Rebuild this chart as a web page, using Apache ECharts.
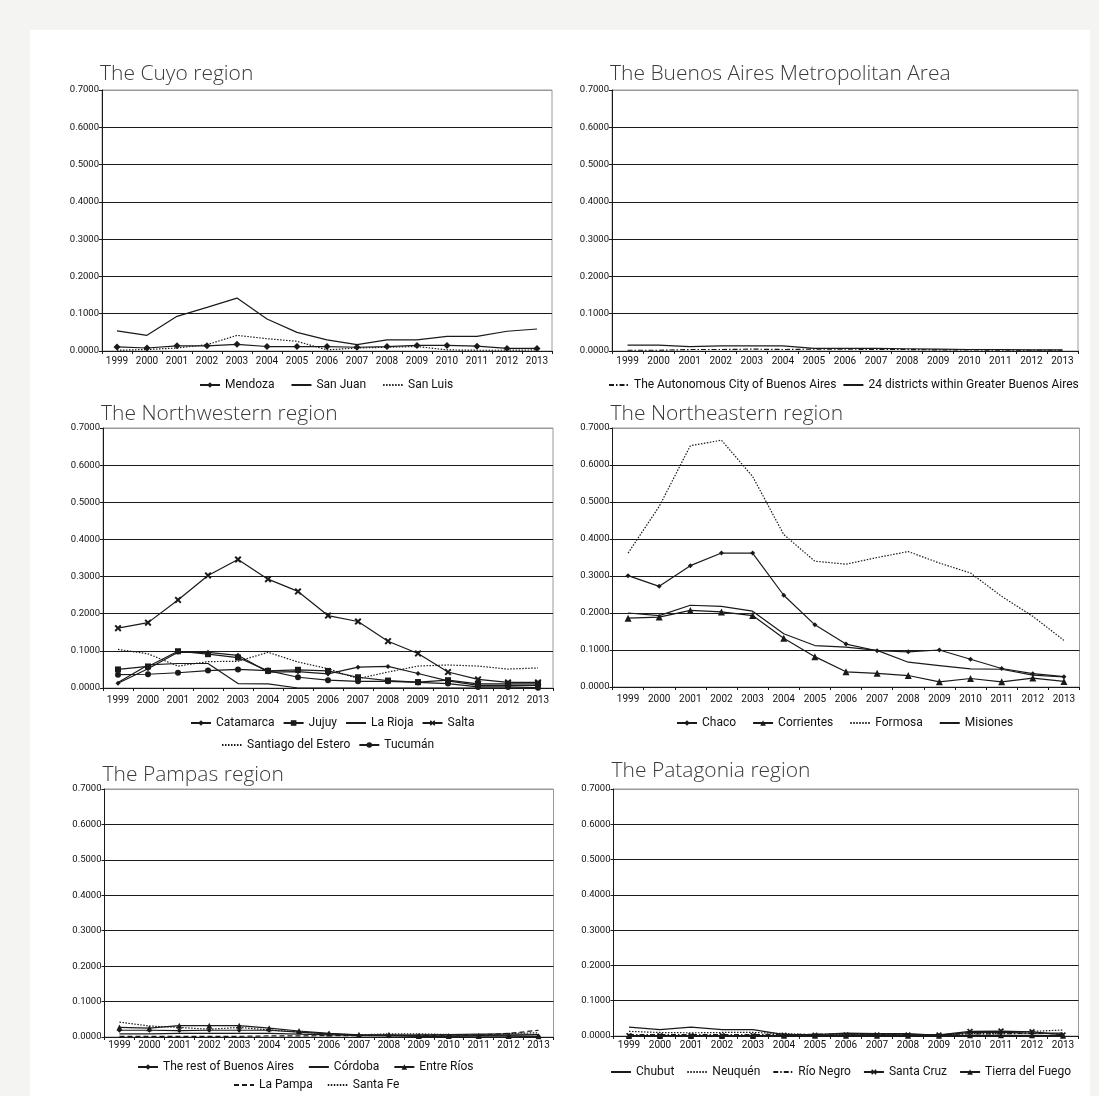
<!DOCTYPE html>
<html>
<head>
<meta charset="utf-8">
<script src="https://cdn.jsdelivr.net/npm/echarts@6/dist/echarts.min.js"></script>
<style>
  html, body { margin: 0; padding: 0; width: 1099px; height: 1096px; overflow: hidden; background: #f4f4f3; }
  #sheet { position: absolute; left: 30px; top: 30px; width: 1060px; height: 1066px; background: #ffffff; }
  .panel { position: absolute; }
</style>
</head>
<body>
<div id="sheet"></div>
<script>
// Years on the horizontal axis
const years = ['1999','2000','2001','2002','2003','2004','2005','2006','2007','2008','2009','2010','2011','2012','2013'];

// The Cuyo region
const mendoza  = [0.011,0.008,0.014,0.014,0.018,0.012,0.012,0.012,0.010,0.012,0.015,0.015,0.013,0.007,0.007];
const sanJuan  = [0.054,0.042,0.093,0.117,0.142,0.086,0.050,0.030,0.017,0.030,0.030,0.039,0.039,0.053,0.059];
const sanLuis  = [0.002,0.004,0.008,0.017,0.042,0.033,0.026,0.003,0.008,0.010,0.012,0.003,0.002,0.002,0.003];

// The Buenos Aires Metropolitan Area
const caba     = [0.002,0.002,0.004,0.004,0.005,0.004,0.005,0.005,0.004,0.004,0.003,0.003,0.002,0.002,0.002];
const gba24    = [0.016,0.016,0.012,0.014,0.014,0.014,0.007,0.007,0.007,0.006,0.005,0.004,0.004,0.003,0.003];

// The Northwestern region
const catamarca = [0.013,0.052,0.096,0.096,0.088,0.043,0.044,0.038,0.056,0.058,0.039,0.019,0.007,0.007,0.007];
const jujuy     = [0.050,0.058,0.099,0.091,0.082,0.046,0.049,0.046,0.029,0.020,0.016,0.021,0.011,0.011,0.011];
const laRioja   = [0.015,0.062,0.066,0.066,0.012,0.011,0.000,0.000,0.000,0.000,0.000,0.000,0.000,0.000,0.000];
const salta     = [0.161,0.176,0.237,0.303,0.346,0.293,0.260,0.195,0.179,0.126,0.093,0.043,0.023,0.015,0.015];
const santiago  = [0.104,0.092,0.059,0.071,0.072,0.096,0.070,0.052,0.025,0.043,0.059,0.062,0.059,0.051,0.054];
const tucuman   = [0.036,0.037,0.041,0.047,0.050,0.047,0.029,0.021,0.018,0.018,0.015,0.012,0.003,0.003,0.001];

// The Northeastern region
const chaco      = [0.301,0.272,0.328,0.362,0.362,0.248,0.168,0.116,0.098,0.095,0.100,0.075,0.050,0.036,0.028];
const corrientes = [0.186,0.189,0.207,0.203,0.193,0.132,0.082,0.041,0.037,0.031,0.014,0.023,0.014,0.024,0.015];
const formosa    = [0.362,0.488,0.652,0.667,0.569,0.412,0.340,0.332,0.350,0.366,0.335,0.308,0.245,0.191,0.126];
const misiones   = [0.200,0.193,0.221,0.218,0.205,0.144,0.112,0.108,0.099,0.067,0.058,0.049,0.048,0.032,0.027];

// The Pampas region
const restBA    = [0.019,0.019,0.018,0.019,0.019,0.019,0.014,0.009,0.004,0.003,0.002,0.002,0.003,0.003,0.002];
const cordoba   = [0.009,0.009,0.010,0.010,0.010,0.010,0.008,0.006,0.005,0.005,0.006,0.007,0.008,0.008,0.007];
const entreRios = [0.027,0.025,0.032,0.032,0.032,0.025,0.017,0.010,0.006,0.006,0.003,0.003,0.003,0.003,0.002];
const laPampa   = [0.002,0.002,0.002,0.002,0.002,0.003,0.003,0.004,0.004,0.005,0.004,0.006,0.006,0.010,0.019];
const santaFe   = [0.042,0.031,0.027,0.022,0.027,0.020,0.014,0.009,0.006,0.009,0.009,0.007,0.005,0.010,0.012];

// The Patagonia region
const chubut      = [0.025,0.018,0.025,0.018,0.018,0.004,0.004,0.008,0.007,0.007,0.002,0.010,0.010,0.008,0.008];
const neuquen     = [0.013,0.010,0.009,0.010,0.010,0.007,0.003,0.004,0.004,0.003,0.003,0.007,0.007,0.013,0.017];
const rioNegro    = [0.004,0.004,0.004,0.004,0.004,0.005,0.005,0.006,0.004,0.004,0.004,0.006,0.006,0.008,0.006];
const santaCruz   = [0.001,0.001,0.001,0.001,0.001,0.002,0.002,0.003,0.003,0.003,0.003,0.013,0.014,0.012,0.003];
const tierraFuego = [0.000,0.000,0.000,0.000,0.000,0.001,0.001,0.001,0.001,0.001,0.001,0.002,0.002,0.002,0.001];

// Shared styling
const INK = '#1a1a1a';
const FONT = 'Roboto, "Noto Sans", sans-serif';
const LEGEND_SIZE = 12;
const ICON_W = 20;
const CROSS = 'path://M2,0L5,3L8,0L10,2L7,5L10,8L8,10L5,7L2,10L0,8L3,5L0,2Z';
const DASH = { solid: 'solid', dot: [1.5, 1.5], dash: [5, 3], dashDot: [5, 2, 1.5, 2] };

const measureCtx = document.createElement('canvas').getContext('2d');
measureCtx.font = LEGEND_SIZE + 'px ' + FONT;

// width of a horizontal legend row: icon + 5px text gap + label, plus item gaps
function legendWidth(names, gap) {
  let w = 0;
  names.forEach((n, i) => { w += ICON_W + 5 + measureCtx.measureText(n).width + (i ? gap : 0); });
  return w;
}

function line(name, data, opts) {
  opts = opts || {};
  const marked = !!opts.symbol;
  return {
    name: name,
    type: 'line',
    data: data,
    // unmarked lines keep a hidden symbol so the legend shows only the stroke
    symbol: marked ? opts.symbol : 'circle',
    showSymbol: marked,
    symbolSize: marked ? (opts.size || 6) : 0,
    itemStyle: { color: INK },
    lineStyle: { color: INK, width: opts.width || 1.2, type: DASH[opts.dash || 'solid'] },
    emphasis: { disabled: true },
    z: opts.z || 2
  };
}

function panel(cfg) {
  const W = 560;
  const cx = cfg.plot.x + cfg.plot.w / 2;
  const left = cx - W / 2;
  const div = document.createElement('div');
  div.className = 'panel';
  div.style.left = left + 'px';
  div.style.top = cfg.rowTop + 'px';
  div.style.width = W + 'px';
  div.style.height = cfg.rowH + 'px';
  document.body.appendChild(div);
  const chart = echarts.init(div, null, { renderer: 'canvas' });
  const gridColors = ['#1a1a1a', '#1a1a1a', '#1a1a1a', '#1a1a1a', '#1a1a1a', '#1a1a1a', '#1a1a1a', '#9a9a9a'];
  const legendItem = name => {
    const s = cfg.series.find(x => x.name === name);
    return { name: name, itemStyle: { opacity: s.showSymbol ? 1 : 0 } };
  };
  chart.setOption({
    animation: false,
    title: {
      text: cfg.title,
      left: cfg.plot.x - left - 2,
      top: cfg.titleTop - cfg.rowTop,
      padding: 0,
      textStyle: { fontFamily: '"Open Sans", sans-serif', fontWeight: 300, fontSize: 21, color: '#3a3a3a' }
    },
    legend: cfg.legends.map(l => ({
      data: l.names.map(legendItem),
      left: Math.round(l.cx - legendWidth(l.names, l.gap) / 2 - left),
      top: l.top - cfg.rowTop,
      itemWidth: ICON_W,
      itemHeight: 7,
      itemGap: l.gap,
      padding: 0,
      selectedMode: false,
      textStyle: { fontFamily: FONT, fontSize: LEGEND_SIZE, color: '#111' }
    })),
    grid: {
      left: cfg.plot.x - left,
      top: cfg.plot.y - cfg.rowTop,
      width: cfg.plot.w,
      height: cfg.plot.h,
      show: true,
      borderColor: '#9a9a9a',
      borderWidth: 1
    },
    xAxis: {
      type: 'category',
      data: years,
      boundaryGap: true,
      axisLine: { lineStyle: { color: INK, width: 1 } },
      axisTick: { show: true, length: 3, interval: 0, lineStyle: { color: INK } },
      axisLabel: { interval: 0, margin: cfg.xMargin || 5, fontFamily: FONT, fontSize: 10, color: '#111' },
      splitLine: { show: false }
    },
    yAxis: {
      type: 'value',
      min: 0,
      max: 0.7,
      interval: 0.1,
      axisLine: { show: true, lineStyle: { color: INK, width: 1 } },
      axisTick: { show: true, length: 3, lineStyle: { color: INK } },
      axisLabel: { margin: 3, fontFamily: FONT, fontSize: 9.5, color: '#111', formatter: v => v.toFixed(4) },
      splitLine: { show: true, lineStyle: { color: gridColors, width: 1 } }
    },
    series: cfg.series
  });
}

// Top row
panel({
  title: 'The Cuyo region', rowTop: 40, rowH: 370, titleTop: 64,
  plot: { x: 102, y: 90, w: 450, h: 261 },
  legends: [{ names: ['Mendoza', 'San Juan', 'San Luis'], top: 379, gap: 16, cx: 325 }],
  series: [
    line('Mendoza', mendoza, { symbol: 'diamond', size: 7, z: 3 }),
    line('San Juan', sanJuan),
    line('San Luis', sanLuis, { dash: 'dot' })
  ]
});
panel({
  title: 'The Buenos Aires Metropolitan Area', rowTop: 40, rowH: 370, titleTop: 64,
  plot: { x: 612, y: 90, w: 466, h: 261 },
  legends: [{ names: ['The Autonomous City of Buenos Aires', '24 districts within Greater Buenos Aires'], top: 379, gap: 6, cx: 842 }],
  series: [
    line('The Autonomous City of Buenos Aires', caba, { dash: 'dashDot' }),
    line('24 districts within Greater Buenos Aires', gba24)
  ]
});

// Middle row
panel({
  title: 'The Northwestern region', rowTop: 395, rowH: 370, titleTop: 404, xMargin: 7,
  plot: { x: 103, y: 428, w: 450, h: 260 },
  legends: [
    { names: ['Catamarca', 'Jujuy', 'La Rioja', 'Salta'], top: 717, gap: 8, cx: 330 },
    { names: ['Santiago del Estero', 'Tucumán'], top: 739, gap: 8, cx: 327 }
  ],
  series: [
    line('Catamarca', catamarca, { symbol: 'diamond', size: 5 }),
    line('Jujuy', jujuy, { symbol: 'rect', size: 6 }),
    line('La Rioja', laRioja),
    line('Salta', salta, { symbol: CROSS, size: 7 }),
    line('Santiago del Estero', santiago, { dash: 'dot' }),
    line('Tucumán', tucuman, { symbol: 'circle', size: 6 })
  ]
});
panel({
  title: 'The Northeastern region', rowTop: 395, rowH: 370, titleTop: 404, xMargin: 7,
  plot: { x: 612, y: 428, w: 467, h: 259 },
  legends: [{ names: ['Chaco', 'Corrientes', 'Formosa', 'Misiones'], top: 717, gap: 16, cx: 842 }],
  series: [
    line('Chaco', chaco, { symbol: 'diamond', size: 5 }),
    line('Corrientes', corrientes, { symbol: 'triangle', size: 7 }),
    line('Formosa', formosa, { dash: 'dot' }),
    line('Misiones', misiones)
  ]
});

// Bottom row
panel({
  title: 'The Pampas region', rowTop: 750, rowH: 346, titleTop: 765, xMargin: 3,
  plot: { x: 104, y: 789, w: 449, h: 248 },
  legends: [
    { names: ['The rest of Buenos Aires', 'Córdoba', 'Entre Ríos'], top: 1061, gap: 14, cx: 303 },
    { names: ['La Pampa', 'Santa Fe'], top: 1079, gap: 14, cx: 315 }
  ],
  series: [
    line('The rest of Buenos Aires', restBA, { symbol: 'diamond', size: 5 }),
    line('Córdoba', cordoba),
    line('Entre Ríos', entreRios, { symbol: 'triangle', size: 6 }),
    line('La Pampa', laPampa, { dash: 'dash' }),
    line('Santa Fe', santaFe, { dash: 'dot' })
  ]
});
panel({
  title: 'The Patagonia region', rowTop: 750, rowH: 346, titleTop: 761, xMargin: 4,
  plot: { x: 613, y: 789, w: 465, h: 247 },
  legends: [{ names: ['Chubut', 'Neuquén', 'Río Negro', 'Santa Cruz', 'Tierra del Fuego'], top: 1066, gap: 12, cx: 838 }],
  series: [
    line('Chubut', chubut),
    line('Neuquén', neuquen, { dash: 'dot' }),
    line('Río Negro', rioNegro, { dash: 'dashDot' }),
    line('Santa Cruz', santaCruz, { symbol: CROSS, size: 6 }),
    line('Tierra del Fuego', tierraFuego, { symbol: 'triangle', size: 6 })
  ]
});
</script>
</body>
</html>
